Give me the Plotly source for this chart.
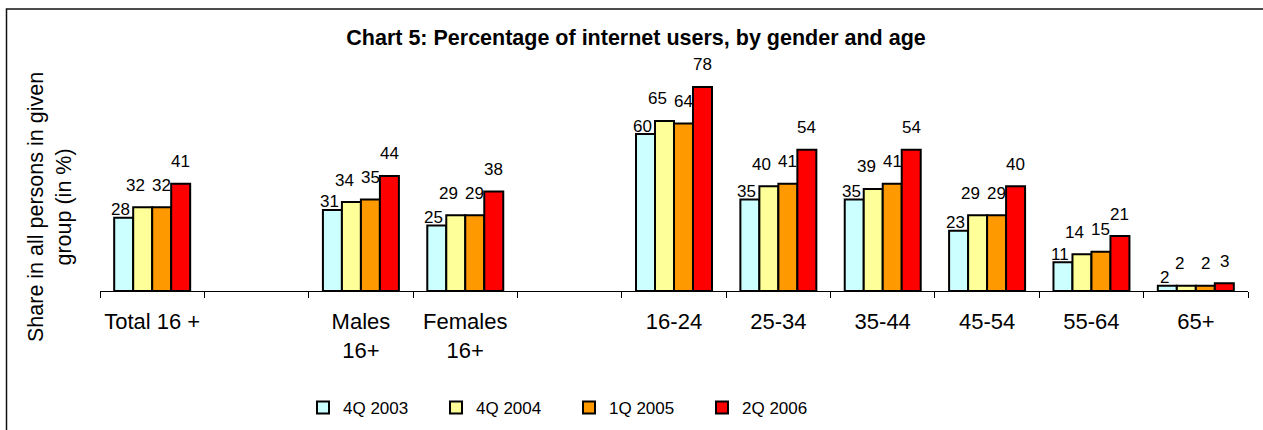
import plotly.graph_objects as go

categories = ["Total 16 +", " ", "Males<br>16+", "Females<br>16+", "  ",
              "16-24", "25-34", "35-44", "45-54", "55-64", "65+"]
series_names = ["4Q 2003", "4Q 2004", "1Q 2005", "2Q 2006"]
q4_2003 = [28, None, 31, 25, None, 60, 35, 35, 23, 11, 2]
q4_2004 = [32, None, 34, 29, None, 65, 40, 39, 29, 14, 2]
q1_2005 = [32, None, 35, 29, None, 64, 41, 41, 29, 15, 2]
q2_2006 = [41, None, 44, 38, None, 78, 54, 54, 40, 21, 3]
series_values = [q4_2003, q4_2004, q1_2005, q2_2006]
colors = ["#CCFFFF", "#FFFF99", "#FF9900", "#FF0000"]

FONT = "Liberation Sans, Arial, sans-serif"
W, H = 1263, 430
ML, MR, MT, MB = 100, 15, 60, 139
BARGAP = 0.272
YMAX = 88.3

# label offsets (pixels) per series, like the Excel label placement
label_yshift = [8, 22, 22, 22]
label_xshift = [-3, -7, 0, 0]

fig = go.Figure()
for name, vals, col in zip(series_names, series_values, colors):
    fig.add_trace(go.Bar(
        x=categories, y=vals, name=name,
        marker=dict(color=col, line=dict(color="black", width=2)),
        hoverinfo="skip",
    ))

nser = len(series_values)
bw = (1 - BARGAP) / nser
annotations = []
for k, vals in enumerate(series_values):
    for i, v in enumerate(vals):
        if v is None:
            continue
        annotations.append(dict(
            x=i + (k - (nser - 1) / 2) * bw, y=v, xref="x", yref="y",
            text=str(v), showarrow=False, xanchor="center", yanchor="middle",
            yshift=label_yshift[k], xshift=label_xshift[k],
            font=dict(family=FONT, size=17, color="black"),
        ))

plot_h = H - MT - MB
plot_w = W - ML - MR

def px2paper_x(px):
    return (px - ML) / plot_w

def px2paper_y(py):
    return (H - MB - py) / plot_h

annotations.append(dict(
    x=px2paper_x(50), y=px2paper_y(207), xref="paper", yref="paper",
    text="Share in all persons in given<br>group (in %)", textangle=-90,
    showarrow=False, xanchor="center", yanchor="middle",
    font=dict(family=FONT, size=21.5, color="black"),
))

fig.update_layout(
    width=W, height=H,
    margin=dict(l=ML, r=MR, t=MT, b=MB, autoexpand=False),
    paper_bgcolor="white", plot_bgcolor="white",
    barmode="group", bargap=BARGAP, bargroupgap=0,
    title=dict(text="<b>Chart 5: Percentage of internet users, by gender and age</b>",
               x=636 / W, xanchor="center", xref="container",
               y=1 - 37 / H, yanchor="middle", yref="container",
               font=dict(family=FONT, size=21.5, color="black")),
    legend=dict(orientation="h", x=px2paper_x(303), xanchor="left",
                y=px2paper_y(408), yanchor="middle",
                entrywidth=88, entrywidthmode="pixels",
                font=dict(family=FONT, size=17, color="black"),
                bgcolor="rgba(0,0,0,0)"),
    annotations=annotations,
    shapes=[dict(type="rect", xref="paper", yref="paper",
                 x0=px2paper_x(6.5), x1=px2paper_x(W + 20),
                 y0=px2paper_y(H + 20), y1=px2paper_y(9),
                 line=dict(color="#111111", width=1.5), layer="below")],
    showlegend=True,
)
fig.update_xaxes(type="category", tickson="boundaries", ticks="outside",
                 ticklen=6, tickcolor="black", tickwidth=1,
                 showline=True, linecolor="black", linewidth=1,
                 showgrid=False, ticklabelstandoff=11, tickangle=0,
                 automargin=False,
                 tickfont=dict(family=FONT, size=22, color="black"))
fig.update_yaxes(visible=False, range=[0, YMAX], showgrid=False, zeroline=False,
                 automargin=False)

fig.write_html("out.html", config={"displayModeBar": False},
               post_script="document.body.style.margin='0';document.body.style.overflow='hidden';")
